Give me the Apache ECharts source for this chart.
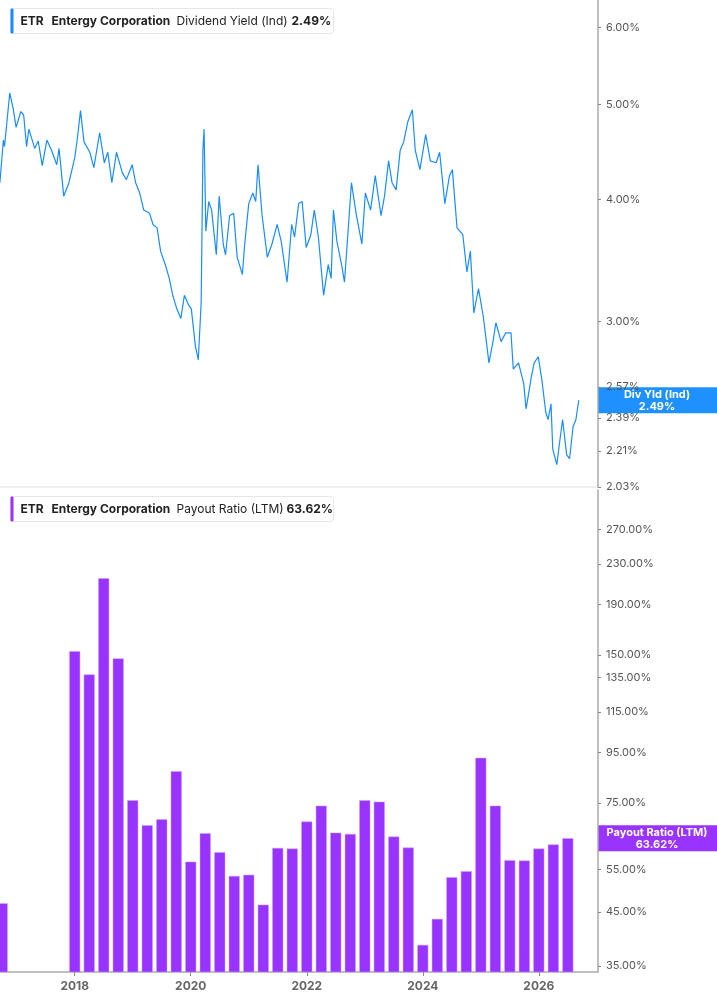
<!DOCTYPE html>
<html><head><meta charset="utf-8">
<script src="https://cdn.jsdelivr.net/npm/echarts@6/dist/echarts.min.js"></script>
<style>html,body{margin:0;padding:0;background:#fff}#c{width:717px;height:1005px}</style>
</head><body><div id="c"></div>
<script>
const yieldYears = [2016.71,2016.77,2016.79,2016.88,2016.94,2016.99,2017.07,2017.12,2017.17,2017.21,2017.31,2017.37,2017.44,2017.52,2017.60,2017.69,2017.73,2017.81,2017.90,2018.00,2018.04,2018.10,2018.16,2018.26,2018.33,2018.43,2018.51,2018.57,2018.64,2018.72,2018.82,2018.89,2018.99,2019.05,2019.12,2019.19,2019.29,2019.35,2019.42,2019.48,2019.56,2019.63,2019.69,2019.76,2019.83,2019.89,2019.96,2020.01,2020.08,2020.13,2020.18,2020.21,2020.23,2020.26,2020.31,2020.36,2020.44,2020.49,2020.56,2020.60,2020.67,2020.74,2020.80,2020.89,2020.93,2021.00,2021.07,2021.12,2021.16,2021.23,2021.32,2021.40,2021.49,2021.56,2021.66,2021.74,2021.79,2021.86,2021.92,2021.99,2022.07,2022.13,2022.20,2022.29,2022.37,2022.42,2022.46,2022.52,2022.60,2022.65,2022.72,2022.77,2022.85,2022.95,2023.01,2023.10,2023.18,2023.28,2023.34,2023.41,2023.47,2023.54,2023.61,2023.67,2023.74,2023.82,2023.87,2023.95,2024.05,2024.13,2024.23,2024.29,2024.38,2024.46,2024.51,2024.59,2024.69,2024.76,2024.82,2024.88,2024.96,2025.04,2025.09,2025.14,2025.21,2025.26,2025.35,2025.43,2025.52,2025.56,2025.65,2025.74,2025.78,2025.81,2025.87,2025.92,2025.99,2026.05,2026.12,2026.16,2026.21,2026.24,2026.31,2026.36,2026.41,2026.48,2026.53,2026.59,2026.64,2026.67,2026.69];
const yieldValues = [4.16,4.60,4.53,5.14,4.95,4.74,4.92,4.88,4.53,4.72,4.51,4.59,4.33,4.60,4.49,4.34,4.51,4.03,4.16,4.41,4.59,4.93,4.58,4.47,4.31,4.68,4.36,4.47,4.16,4.47,4.26,4.19,4.34,4.16,4.06,3.90,3.87,3.77,3.74,3.54,3.43,3.32,3.19,3.09,3.02,3.19,3.12,3.09,2.83,2.74,3.14,4.49,4.72,3.71,3.98,3.90,3.51,4.03,3.60,3.51,3.85,3.87,3.49,3.35,3.60,3.96,4.06,3.98,4.34,3.85,3.49,3.60,3.77,3.62,3.29,3.77,3.66,3.96,3.98,3.57,3.68,3.90,3.66,3.19,3.43,3.32,3.90,3.62,3.43,3.29,3.77,4.16,3.87,3.60,4.06,3.90,4.23,3.85,4.03,4.38,4.16,4.09,4.49,4.58,4.80,4.94,4.49,4.29,4.66,4.38,4.36,4.47,3.96,4.23,4.29,3.74,3.68,3.37,3.54,3.06,3.24,3.04,2.88,2.72,2.86,2.99,2.86,2.92,2.92,2.68,2.72,2.59,2.44,2.50,2.63,2.72,2.76,2.62,2.42,2.38,2.47,2.22,2.14,2.26,2.38,2.19,2.17,2.34,2.38,2.45,2.49];
const payoutQuarters = [2016.75,2018.00,2018.25,2018.50,2018.75,2019.00,2019.25,2019.50,2019.75,2020.00,2020.25,2020.50,2020.75,2021.00,2021.25,2021.50,2021.75,2022.00,2022.25,2022.50,2022.75,2023.00,2023.25,2023.50,2023.75,2024.00,2024.25,2024.50,2024.75,2025.00,2025.25,2025.50,2025.75,2026.00,2026.25,2026.50];
const payoutValues = [46.9,152.8,137,215,147.7,76,67.6,69.5,87.1,57,65.1,59.6,53.3,53.6,46.6,60.8,60.6,68.8,74.1,65.3,64.9,76,75.5,64.1,60.9,38.6,43.6,53,54.5,92.7,74.1,57.4,57.3,60.6,61.8,63.62];
const yieldTicks = [6.00,5.00,4.00,3.00,2.57,2.39,2.21,2.03];
const payoutTicks = [270,230,190,150,135,115,95,75,55,45,35];
const yearTicks = [2018,2020,2022,2024,2026];

const L = Math.log;
const font = 'Inter, "Noto Sans", sans-serif';
const chart = echarts.init(document.getElementById('c'), null, {renderer:'canvas'});
const yAx = (min,max,ticks,gi,dec)=>({type:'value',gridIndex:gi,position:'right',min:L(min),max:L(max),
  axisLine:{show:true,lineStyle:{color:'#aaa',width:1.5}},splitLine:{show:false},
  axisTick:{show:true,customValues:ticks.map(L),length:3,inside:false,lineStyle:{color:'#888'}},
  axisLabel:{customValues:ticks.map(L),color:'#555',fontSize:11,fontFamily:font,margin:8,
    formatter:v=>Math.exp(v).toFixed(2)+'%'}});
const xAx = (gi,show)=>({type:'value',gridIndex:gi,min:2016.712,max:2027.02,
  axisLine:{show:show,lineStyle:{color:'#aaa',width:1.5}},splitLine:{show:false},
  axisTick:{show:show,customValues:yearTicks,length:4,lineStyle:{color:'#888'}},
  axisLabel:{show:show,customValues:yearTicks,color:'#666',fontWeight:'bold',fontSize:12,fontFamily:font,formatter:v=>String(v)}});
chart.setOption({
  animation:false,
  grid:[{left:0,right:119,top:0,height:487},{left:0,right:119,top:490,height:482}],
  xAxis:[xAx(0,false),xAx(1,true)],
  yAxis:[yAx(2.03,6.40,yieldTicks,0),yAx(34.0,325,payoutTicks,1)],
  series:[
    {type:'line',xAxisIndex:0,yAxisIndex:0,data:yieldYears.map((y,i)=>[y,L(yieldValues[i])]),
     symbol:'none',lineStyle:{color:'#1a8cff',width:1.2},clip:true},
    {type:'bar',xAxisIndex:1,yAxisIndex:1,data:payoutQuarters.map((q,i)=>[q,L(payoutValues[i])]),
     barWidth:11,itemStyle:{color:'#9933ff',borderColor:'#c9a0ff',borderWidth:0.5}}
  ]
});
const py = chart.convertToPixel({yAxisIndex:0},L(yieldValues[yieldValues.length-1]));
const pb = chart.convertToPixel({yAxisIndex:1},L(payoutValues[payoutValues.length-1]));
function header(y,color,label,val){
  return {type:'group',left:10,top:y,children:[
    {type:'rect',shape:{x:0,y:0,width:323,height:25,r:3},style:{fill:'#fff',stroke:'#e6e6e6',lineWidth:1}},
    {type:'rect',shape:{x:0,y:0,width:3,height:25,r:1},style:{fill:color}},
    {type:'text',x:10,y:12.5,style:{text:'ETR',font:'bold 12px '+font,fill:'#222',textVerticalAlign:'middle'}},
    {type:'text',x:41,y:12.5,style:{text:'Entergy Corporation',font:'bold 12px '+font,fill:'#222',textVerticalAlign:'middle'}},
    {type:'text',x:166,y:12.5,style:{text:label,font:'12px '+font,fill:'#222',textVerticalAlign:'middle'}},
    {type:'text',x:val[1],y:12.5,style:{text:val[0],font:'bold 12px '+font,fill:'#222',textVerticalAlign:'middle'}}
  ]};
}
function tag(y,color,t1,t2){
  return {type:'group',left:598,top:y-13,children:[
    {type:'rect',shape:{x:0,y:0,width:119,height:26},style:{fill:color}},
    {type:'text',x:59,y:7,style:{text:t1,font:'bold 11px '+font,fill:'#fff',align:'center',textVerticalAlign:'middle'}},
    {type:'text',x:59,y:19,style:{text:t2,font:'bold 11px '+font,fill:'#fff',align:'center',textVerticalAlign:'middle'}}
  ]};
}
chart.setOption({graphic:[
  {type:'line',shape:{x1:0,y1:487,x2:598,y2:487},style:{stroke:'#ddd',lineWidth:1}},
  header(8,'#1a8cff','Dividend Yield (Ind)',['2.49%',281]),
  header(496,'#9933ff','Payout Ratio (LTM)',['63.62%',276]),
  tag(py,'#1e90ff','Div Yld (Ind)','2.49%'),
  tag(pb,'#9933ff','Payout Ratio (LTM)','63.62%')
]});
</script></body></html>
